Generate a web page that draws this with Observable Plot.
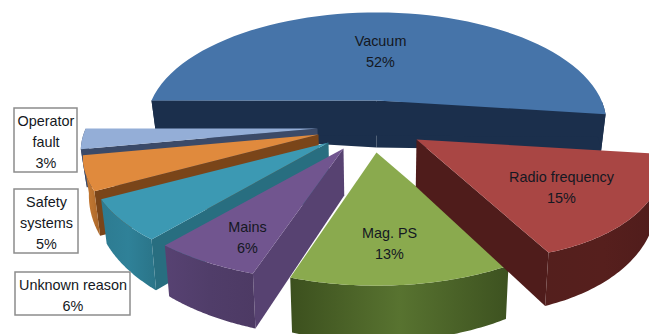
<!DOCTYPE html>
<html>
<head>
<meta charset="utf-8">
<style>
  html, body { margin: 0; padding: 0; background: #fff; }
  svg { display: block; }
</style>
<script src="https://cdn.jsdelivr.net/npm/d3@7"></script>
<script src="https://cdn.jsdelivr.net/npm/@observablehq/plot@0.6"></script>
</head>
<body>
<div id="chart"></div>
<script>
// Share of downtime by cause, clockwise from the back-left of the pie.
const causes = ["Vacuum", "Radio frequency", "Mag. PS", "Mains", "Unknown reason", "Safety systems", "Operator fault"];
const shares = [52, 15, 13, 6, 6, 5, 3];

// Colours of each slice: top face, radial cut, outer rim.
const topColors = ["#4674a9", "#a94644", "#8aaa4e", "#71558f", "#3c99b3", "#e08a3d", "#94aed7"];
const cutColors = ["#1b2f4c", "#4f1c1b", "#3f5420", "#574271", "#286e80", "#7a4519", "#3b4a68"];
const rimColors = ["#1b2f4c", "url(#rim1)", "url(#rim2)", "url(#rim3)", "url(#rim4)", "url(#rim5)", "#3b4a68"];
const rimGradients = {
  rim1: ["#541f1d", "#561f1d", "#4f1c1b"],
  rim2: ["#3c501e", "#587330", "#3d5220"],
  rim3: ["#574272", "#503d69", "#4d3a64"],
  rim4: ["#2d7b91", "#2f8198", "#2a7488"],
  rim5: ["#c87b35", "#bd7430", "#a9662a"]
};

// Where each exploded slice's tip sits on the page, and back-to-front paint order.
const tips = [[376, 100], [416, 139], [376, 152], [343, 148], [328, 142], [318, 134], [317, 128]];
const paintOrder = [0, 6, 5, 4, 3, 2, 1];
// Perspective widens the pulled-out slices; the large front-right slice also bulges along its arc.
const stretchX = [1, 1, 1, 1.05, 1.04, 1.025, 1.03];
const bulge = [0, 0.07, 0, 0, 0, 0, 0];

// Text placement: slice labels sit on the faces, small slices get a framed callout.
const faceLabels = [
  {text: "Vacuum\n52%", x: 380, y: 49},
  {text: "Radio frequency\n15%", x: 561, y: 185},
  {text: "Mag. PS\n13%", x: 389, y: 241},
  {text: "Mains\n6%", x: 247, y: 235}
];
const callouts = [
  {text: "Operator\nfault\n3%", x1: 14, x2: 77, y1: 108, y2: 172},
  {text: "Safety\nsystems\n5%", x1: 14, x2: 78, y1: 189, y2: 253},
  {text: "Unknown reason\n6%", x1: 15, x2: 130, y1: 272, y2: 315}
];

// Perspective projection of the tilted disc.
const radiusX = 225, radiusY = 106, persp = 0.204, firstAngle = 180;
const rad = d => d * Math.PI / 180;
const rimOffset = deg => {
  const X = Math.cos(rad(deg)), Y = Math.sin(rad(deg)), k = 1 - persp * Y;
  return [radiusX * X / k, radiusY * Y / k];
};
// The extruded wall is taller towards the viewer and its verticals converge slightly.
const rimDepth = deg => 34 + 22 * Math.max(0, Math.sin(rad(deg)));
const tipDepth = 47;
const lower = ([x, y], depth) => [x - (x - 380) * 0.02, y + depth];

const arcAngles = (a0, a1) => d3.range(0, 61).map(i => a0 + (a1 - a0) * i / 60);
const rimPoint = (w, deg) => {
  const [dx, dy] = rimOffset(deg);
  const t = (deg - w.a0) / (w.a1 - w.a0);
  const reach = 1 + w.bulge * (1 - t * t * t);
  return [w.tip[0] + dx * reach * w.stretch, w.tip[1] + dy * reach];
};
const toRows = pts => pts.map(([x, y]) => ({x, y}));

let angle = firstAngle;
const wedges = shares.map((share, i) => {
  const a0 = angle, a1 = angle + share * 3.6;
  angle = a1;
  return {
    cause: causes[i], a0, a1, tip: tips[i], stretch: stretchX[i], bulge: bulge[i],
    top: topColors[i], cut: cutColors[i], rim: rimColors[i]
  };
});

const polygon = (pts, fill) =>
  Plot.line(toRows([...pts, pts[0]]), {x: "x", y: "y", fill, stroke: "none", curve: "linear"});

function wedgeMarks(w) {
  const marks = [];
  // A straight cut shows only when it faces the viewer.
  const cutWall = deg => {
    const p = rimPoint(w, deg);
    marks.push(polygon([w.tip, p, lower(p, rimDepth(deg)), lower(w.tip, tipDepth)], w.cut));
  };
  if (-Math.cos(rad(w.a0)) > 0) cutWall(w.a0);
  if (Math.cos(rad(w.a1)) > 0) cutWall(w.a1);
  // Outer wall: only the arc on the near half of the disc.
  const near = arcAngles(w.a0, w.a1).filter(d => Math.sin(rad(d)) >= 0);
  if (near.length > 1) {
    const upper = near.map(d => rimPoint(w, d));
    const under = near.map((d, j) => lower(upper[j], rimDepth(d))).reverse();
    marks.push(polygon([...upper, ...under], w.rim));
  }
  const face = [w.tip, ...arcAngles(w.a0, w.a1).map(d => rimPoint(w, d))];
  marks.push(polygon(face, w.top));
  return marks;
}

const textColor = "#141822";
const fontFamily = "Liberation Sans, Arial, sans-serif";

const chart = Plot.plot({
  width: 649,
  height: 334,
  margin: 0,
  style: {background: "#fff", fontFamily},
  x: {domain: [0, 649], range: [0, 649], axis: null},
  y: {domain: [0, 334], range: [0, 334], axis: null},
  marks: [
    ...paintOrder.flatMap(i => wedgeMarks(wedges[i])),
    Plot.rect(callouts, {x1: "x1", x2: "x2", y1: "y1", y2: "y2", fill: "#fff", stroke: "#8c8c8c", strokeWidth: 1.5}),
    Plot.text(callouts, {
      x: d => (d.x1 + d.x2) / 2, y: d => (d.y1 + d.y2) / 2, text: "text",
      fontSize: 14.4, lineHeight: 1.46, fill: textColor, textAnchor: "middle"
    }),
    Plot.text(faceLabels, {
      x: "x", y: "y", text: "text",
      fontSize: 14.4, lineHeight: 1.46, fill: textColor, textAnchor: "middle"
    })
  ]
});

// Horizontal shading for the rim walls.
const defs = d3.select(chart).insert("defs", ":first-child");
for (const [id, stops] of Object.entries(rimGradients)) {
  const g = defs.append("linearGradient").attr("id", id);
  stops.forEach((c, i) => g.append("stop").attr("offset", i / (stops.length - 1)).attr("stop-color", c));
}

document.getElementById("chart").append(chart);
</script>
</body>
</html>
